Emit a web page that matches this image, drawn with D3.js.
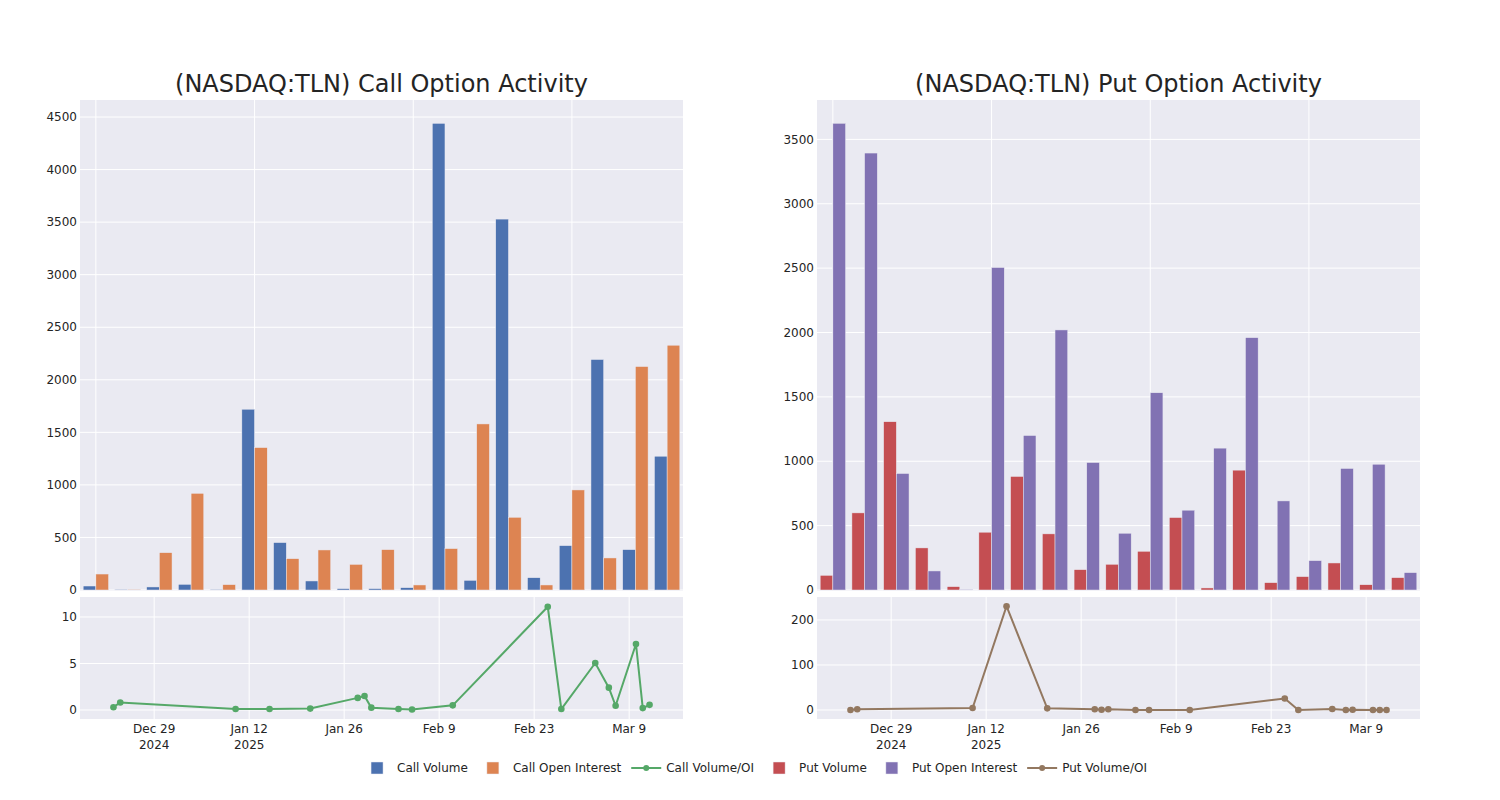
<!DOCTYPE html>
<html>
<head>
<meta charset="utf-8">
<script src="https://cdn.jsdelivr.net/npm/d3@7"></script>
<style>
  html, body { margin: 0; padding: 0; background: #fff; }
  svg { display: block; font-family: "DejaVu Sans", sans-serif; }
</style>
</head>
<body>
<svg id="chart" width="1500" height="800"></svg>
<script>
// ---------------- DATA ----------------
const dates = ["2024-12-23","2024-12-24","2025-01-10","2025-01-15","2025-01-21","2025-01-28","2025-01-29","2025-01-30","2025-02-03","2025-02-05","2025-02-11","2025-02-25","2025-02-27","2025-03-04","2025-03-06","2025-03-07","2025-03-10","2025-03-11","2025-03-12"];

const callVolume = [38, 6, 29, 54, 6, 1720, 451, 86, 13, 13, 22, 4440, 92, 3529, 117, 422, 2193, 384, 1273];
const callOI     = [152, 6, 355, 920, 51, 1355, 298, 381, 244, 384, 48, 394, 1580, 692, 48, 952, 305, 2126, 2329];
const callRatio  = [0.3, 0.8, 0.1, 0.1, 0.15, 1.3, 1.5, 0.25, 0.1, 0.05, 0.5, 11.1, 0.1, 5.05, 2.4, 0.45, 7.1, 0.2, 0.55];

const putVolume = [114, 599, 1307, 327, 26, 449, 882, 436, 158, 200, 301, 563, 16, 931, 57, 104, 210, 41, 96];
const putOI     = [3625, 3394, 905, 148, 5, 2505, 1200, 2020, 990, 441, 1532, 620, 1102, 1960, 692, 228, 944, 977, 135];
const putRatio  = [0, 1.5, 4.5, 230.6, 3.7, 1.5, 0.7, 1.5, 0.1, 0.1, 0.1, 25.4, 0.1, 2.2, 0.1, 0.7, 0.1, 0.1, 0.1];

const callBarTicks = [0, 500, 1000, 1500, 2000, 2500, 3000, 3500, 4000, 4500];
const putBarTicks  = [0, 500, 1000, 1500, 2000, 2500, 3000, 3500];
const callRatioTicks = [0, 5, 10];
const putRatioTicks  = [0, 100, 200];
const dateTicks = ["2024-12-29","2025-01-12","2025-01-26","2025-02-09","2025-02-23","2025-03-09"];
const dateTickLabels = [["Dec 29","2024"],["Jan 12","2025"],["Jan 26"],["Feb 9"],["Feb 23"],["Mar 9"]];

const titles = ["(NASDAQ:TLN) Call Option Activity", "(NASDAQ:TLN) Put Option Activity"];
const legendItems = [
  {name: "Call Volume", type: "bar", color: "#4C72B0"},
  {name: "Call Open Interest", type: "bar", color: "#DD8452"},
  {name: "Call Volume/OI", type: "line", color: "#55A868"},
  {name: "Put Volume", type: "bar", color: "#C44E52"},
  {name: "Put Open Interest", type: "bar", color: "#8172B3"},
  {name: "Put Volume/OI", type: "line", color: "#937860"}
];

// ---------------- LAYOUT ----------------
const svg = d3.select("#chart");
const textColor = "rgb(36,36,36)";
const bg = "#EAEAF2";
const parse = d3.timeParse("%Y-%m-%d");
const dateObjs = dates.map(parse);

const panels = [
  {x0: 80, x1: 683, title: titles[0], vol: callVolume, oi: callOI, ratio: callRatio,
   c1: "#4C72B0", c2: "#DD8452", c3: "#55A868", barMax: 4662, barTicks: callBarTicks,
   ratioDom: [-0.97, 12.15], ratioTicks: callRatioTicks},
  {x0: 817, x1: 1420, title: titles[1], vol: putVolume, oi: putOI, ratio: putRatio,
   c1: "#C44E52", c2: "#8172B3", c3: "#937860", barMax: 3806, barTicks: putBarTicks,
   ratioDom: [-20, 251], ratioTicks: putRatioTicks}
];

const topY0 = 100, topY1 = 590, botY0 = 597, botY1 = 719;
const timeDomain = [new Date(2024, 11, 18, 1, 40), new Date(2025, 2, 16, 22, 20)];

panels.forEach(p => {
  const g = svg.append("g");
  // title
  g.append("text")
    .attr("x", (p.x0 + p.x1) / 2).attr("y", 92)
    .attr("text-anchor", "middle")
    .attr("font-size", 24).attr("fill", textColor)
    .text(p.title);

  // ----- top bar panel -----
  g.append("rect").attr("x", p.x0).attr("y", topY0)
    .attr("width", p.x1 - p.x0).attr("height", topY1 - topY0 + 1).attr("fill", bg);

  const xb = d3.scaleBand().domain(dates).range([p.x0, p.x1])
    .paddingInner(0.2).paddingOuter(0.1);
  const xs = d3.scaleBand().domain(["vol", "oi"]).range([0, xb.bandwidth()]);
  const yb = d3.scaleLinear().domain([0, p.barMax]).range([topY1, topY0]);

  // grid
  const gridDates = dates.filter((d, i) => i % 5 === 0);
  g.append("g").selectAll("line").data(gridDates).join("line")
    .attr("x1", d => xb(d) + xb.bandwidth() / 2).attr("x2", d => xb(d) + xb.bandwidth() / 2)
    .attr("y1", topY0).attr("y2", topY1).attr("stroke", "#fff").attr("stroke-width", 1);
  g.append("g").selectAll("line").data(p.barTicks).join("line")
    .attr("x1", p.x0).attr("x2", p.x1)
    .attr("y1", d => yb(d)).attr("y2", d => yb(d))
    .attr("stroke", "#fff").attr("stroke-width", 1);
  g.append("g").selectAll("text").data(p.barTicks).join("text")
    .attr("x", p.x0 - 3).attr("y", d => yb(d)).attr("dy", "0.35em")
    .attr("text-anchor", "end").attr("font-size", 12).attr("fill", textColor)
    .text(d => d);

  // bars
  const series = [{key: "vol", vals: p.vol, color: p.c1}, {key: "oi", vals: p.oi, color: p.c2}];
  series.forEach(s => {
    g.append("g").selectAll("rect").data(s.vals).join("rect")
      .attr("x", (d, i) => xb(dates[i]) + xs(s.key))
      .attr("width", xs.bandwidth())
      .attr("y", d => yb(d))
      .attr("height", d => yb(0) - yb(d))
      .attr("fill", s.color)
      .attr("stroke", bg).attr("stroke-width", 0.5);
  });

  // ----- bottom line panel -----
  g.append("rect").attr("x", p.x0).attr("y", botY0)
    .attr("width", p.x1 - p.x0).attr("height", botY1 - botY0).attr("fill", bg);
  const xt = d3.scaleTime().domain(timeDomain).range([p.x0, p.x1]);
  const yr = d3.scaleLinear().domain(p.ratioDom).range([botY1, botY0]);
  const tickDates = dateTicks.map(parse);

  g.append("g").selectAll("line").data(tickDates).join("line")
    .attr("x1", d => xt(d)).attr("x2", d => xt(d))
    .attr("y1", botY0).attr("y2", botY1).attr("stroke", "#fff").attr("stroke-width", 1);
  g.append("g").selectAll("line").data(p.ratioTicks).join("line")
    .attr("x1", p.x0).attr("x2", p.x1)
    .attr("y1", d => yr(d)).attr("y2", d => yr(d))
    .attr("stroke", "#fff").attr("stroke-width", 1);
  g.append("g").selectAll("text").data(p.ratioTicks).join("text")
    .attr("x", p.x0 - 3).attr("y", d => yr(d)).attr("dy", "0.35em")
    .attr("text-anchor", "end").attr("font-size", 12).attr("fill", textColor)
    .text(d => d);

  const xl = g.append("g").selectAll("text").data(tickDates).join("text")
    .attr("x", d => xt(d)).attr("y", botY1 + 14)
    .attr("text-anchor", "middle").attr("font-size", 12).attr("fill", textColor);
  xl.each(function(d, i) {
    const t = d3.select(this);
    dateTickLabels[i].forEach((line, j) => {
      t.append("tspan").attr("x", xt(d)).attr("dy", j === 0 ? 0 : 16).text(line);
    });
  });

  const line = d3.line().x((d, i) => xt(dateObjs[i])).y(d => yr(d));
  g.append("path").datum(p.ratio).attr("d", line)
    .attr("fill", "none").attr("stroke", p.c3).attr("stroke-width", 2);
  g.append("g").selectAll("circle").data(p.ratio).join("circle")
    .attr("cx", (d, i) => xt(dateObjs[i])).attr("cy", d => yr(d))
    .attr("r", 3.3).attr("fill", p.c3);
});

// ---------------- LEGEND ----------------
const lg = svg.append("g").attr("class", "legend");
let cx = 0;
const items = [];
legendItems.forEach(it => {
  const ig = lg.append("g").attr("transform", `translate(${cx},0)`);
  if (it.type === "bar") {
    ig.append("rect").attr("x", 14).attr("y", -6).attr("width", 12).attr("height", 12)
      .attr("fill", it.color).attr("stroke", bg).attr("stroke-width", 0.5);
  } else {
    ig.append("line").attr("x1", 5).attr("x2", 35).attr("y1", 0).attr("y2", 0)
      .attr("stroke", it.color).attr("stroke-width", 2);
    ig.append("circle").attr("cx", 20).attr("cy", 0).attr("r", 3).attr("fill", it.color);
  }
  const t = ig.append("text").attr("x", 40).attr("y", 0).attr("dy", "0.35em")
    .attr("font-size", 12).attr("fill", textColor).text(it.name);
  const w = t.node().getComputedTextLength();
  cx += 40 + w + 5;
});
const totalW = cx - 5;
lg.attr("transform", `translate(${(1500 - totalW) / 2 + 2},768)`);
</script>
</body>
</html>
